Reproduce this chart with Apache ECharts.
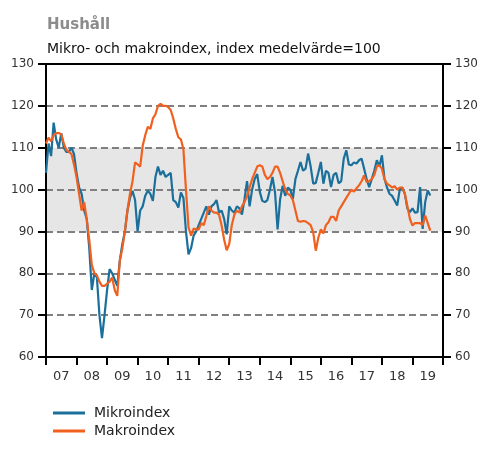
<!DOCTYPE html>
<html><head><meta charset="utf-8">
<script src="https://cdn.jsdelivr.net/npm/echarts@6/dist/echarts.min.js"></script>
<style>html,body{margin:0;padding:0;background:#fff}#c{width:503px;height:450px}</style>
</head><body><div id="c"></div>
<script>
const titleText = 'Hushåll';
const subtitleText = 'Mikro- och makroindex, index medelvärde=100';
const seriesNames = ['Mikroindex', 'Makroindex'];
const startYear = 2007;
const endYear = 2020;
const yearLabels = ['07','08','09','10','11','12','13','14','15','16','17','18','19'];
const yMin = 60, yMax = 130, yStep = 10;
const bandRange = [90, 110];

// monthly values, Jan 2007 onwards
const mikroindex = [
104,111,108,116,112,110,113.5,110,109,109,110,108.5,
104,100.5,99,95,93,86,76,80,79,70,64.5,70,
76,81,80,78.5,77,83,87,90,95,98,99.7,97.5,
90,95,96,98.5,99.7,99,97.3,103,105.5,103.5,104.5,103,
103.5,104,97.5,97,95.7,99.3,98,90,84.5,86,89,90,
91.5,93,94.5,96,94,96,96.5,97.5,94.5,95,93,89.3,
96,95,94.5,96,95.5,94,97.7,102,96,100,102.5,103.7,
99.5,97.3,97,97.5,100,103,99.3,90.5,97.7,100.9,98.5,100.5,
100,97.8,102.5,104.5,106.6,104.5,105,108.6,105.5,101.4,101.6,104,
106.6,101.4,104.5,104,100.6,103.5,104,101.5,102,107.4,109.4,106,
105.8,106.5,106.2,107,107.4,105,102.5,100.6,102.5,104.5,107,105.5,
108.2,102.6,100.5,99,98.5,97.4,96.2,100,100.5,99,95.5,94.6,
95.5,94.5,94.6,100.6,90.6,97,99.8,98.6
];
const makroindex = [
111,112.4,111.5,113,113.5,113.5,113.2,111,109.5,109,108.5,106,
103,99,95,97,93,88,82,80,79.5,78,77,77,
77.5,78,79,76,74.6,83,86,90,95,99,102,106.5,
106,105.5,110.5,113,115,114.5,117,118,120,120.5,120,120,
119.7,119,117,114.5,112.5,112,109.6,100,91,89,90.7,90.5,
90.5,92,91.5,93.7,96,95,94.5,94.5,94,91.5,88,85.5,
87,91.5,94,95,94.5,96,97,98.5,100.5,102.5,104,105.5,
105.8,105.5,103.5,102.5,103,104,105.5,105.5,104,102,100,99,
98.6,97.5,95,92.5,92.3,92.5,92.4,92,91.5,89.8,85.4,88.5,
90.5,89.5,91.5,92.2,93.5,93.5,92.5,95,96,97,98,99,
100,99.5,100.3,101,102,103.4,101.8,102,102.5,103.5,105.5,105.8,
105,102.5,101.4,101,100.5,100.8,100,100.5,100.5,99,96,93,
91.4,92,92,92,91.5,93.8,92,90.2
];
const colors = ['#1b6f9b', '#f0601f'];

const toPairs = arr => arr.map((v, i) => [startYear + i / 12, v]);
const yearTicks = [];
for (let y = startYear; y <= endYear; y++) yearTicks.push(y);
const labelPos = yearLabels.map((l, i) => startYear + i + 0.5);

const font = 'DejaVu Sans, Verdana, sans-serif';
const chart = echarts.init(document.getElementById('c'), null, {renderer: 'canvas'});

const yAxisCommon = {
  type: 'value', min: yMin, max: yMax, interval: yStep,
  axisLine: {show: true, lineStyle: {color: '#000', width: 2}},
  axisTick: {show: true, inside: false, length: 8, lineStyle: {color: '#000', width: 2}},
  axisLabel: {color: '#333', fontSize: 12, fontFamily: font, margin: 12},
};

chart.setOption({
  animation: false,
  backgroundColor: '#fff',
  title: [
    {text: titleText, left: 47, top: 18, padding: 0,
     textStyle: {color: '#8c8c8c', fontSize: 15, fontWeight: 'bold', fontFamily: font}},
    {text: subtitleText, left: 47, top: 42, padding: 0,
     textStyle: {color: '#111', fontSize: 14, fontWeight: 'normal', fontFamily: font}}
  ],
  legend: {
    orient: 'vertical', left: 53, top: 406, padding: 0,
    icon: 'rect', itemWidth: 32, itemHeight: 3, itemGap: 4,
    textStyle: {color: '#222', fontSize: 14, fontFamily: font, padding: [0, 0, 0, 4]},
    data: seriesNames
  },
  grid: {left: 46, right: 60, top: 64, bottom: 93, containLabel: false},
  xAxis: [
    {
      type: 'value', min: startYear, max: endYear, interval: 1,
      axisLine: {show: true, onZero: false, lineStyle: {color: '#000', width: 2}},
      axisTick: {show: true, length: 8, customValues: yearTicks, lineStyle: {color: '#000', width: 2}},
      axisLabel: {customValues: labelPos, color: '#333', fontSize: 13, fontFamily: font, margin: 13,
        formatter: v => yearLabels[Math.floor(v) - startYear]},
      splitLine: {show: false}
    },
    {
      type: 'value', min: startYear, max: endYear, interval: 1, position: 'top',
      axisLine: {show: true, onZero: false, lineStyle: {color: '#000', width: 2}},
      axisTick: {show: false}, axisLabel: {show: false}, splitLine: {show: false}
    }
  ],
  yAxis: [
    Object.assign({}, yAxisCommon, {position: 'left',
      splitLine: {show: true, showMinLine: false, showMaxLine: false,
        lineStyle: {color: '#808080', width: 2, type: [7, 4]}}}),
    Object.assign({}, yAxisCommon, {position: 'right', splitLine: {show: false}})
  ],
  series: [
    {
      name: 'band', type: 'line', data: [], silent: true, z: 0,
      markArea: {silent: true, z: -1, itemStyle: {color: '#e6e6e6'},
        data: [[{yAxis: bandRange[0]}, {yAxis: bandRange[1]}]]}
    },
    {
      name: seriesNames[0], type: 'line', data: toPairs(mikroindex),
      showSymbol: false, symbol: 'none', color: colors[0],
      lineStyle: {color: colors[0], width: 2.2}
    },
    {
      name: seriesNames[1], type: 'line', data: toPairs(makroindex),
      showSymbol: false, symbol: 'none', color: colors[1],
      lineStyle: {color: colors[1], width: 2.2}
    }
  ]
});
</script>
</body></html>
